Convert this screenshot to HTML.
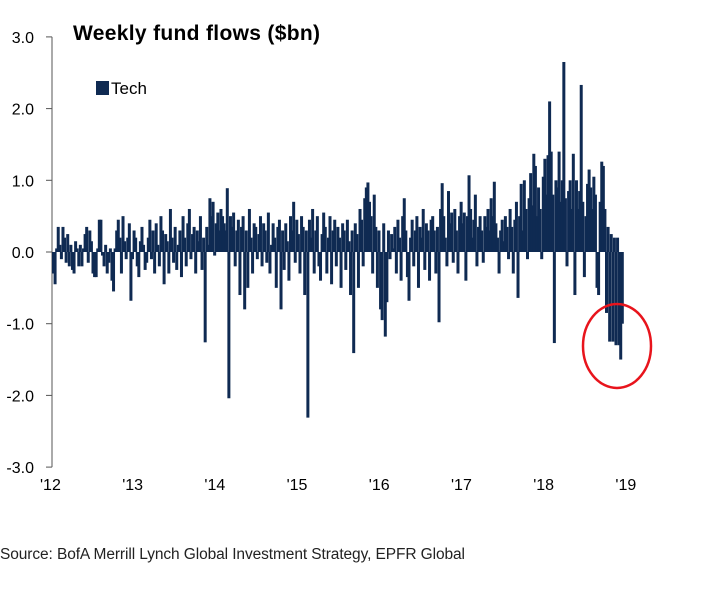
<!DOCTYPE html>
<html><head><meta charset="utf-8"><style>
body{margin:0;background:#fff;width:713px;height:599px;overflow:hidden;font-family:"Liberation Sans",sans-serif}
svg{position:absolute;left:0;top:0}
</style></head><body>
<svg width="713" height="599">
<text x="73" y="40" font-size="21" font-weight="bold" fill="#000" textLength="247">Weekly fund flows ($bn)</text>
<rect x="96" y="81" width="13" height="14" fill="#0f2a52"/>
<text x="111" y="94" font-size="17" fill="#000">Tech</text>
<g id="axes"></g>
<g id="bars"></g>
<ellipse cx="617" cy="346" rx="34" ry="42" fill="none" stroke="#e8141c" stroke-width="2.5"/>
<text x="0" y="559" font-size="15.5" fill="#222" textLength="465">Source: BofA Merrill Lynch Global Investment Strategy, EPFR Global</text>
</svg>
<script>
const yTicks=[3,2,1,0,-1,-2,-3];
const yTickLabels=["3.0","2.0","1.0","0.0","-1.0","-2.0","-3.0"];
const xLabels=["'12","'13","'14","'15","'16","'17","'18","'19"];
const flows=[
-0.3,-0.45,0.05,0.35,0.1,-0.1,0.35,0.2,-0.15,0.25,-0.2,0.1,-0.25,-0.3,0.15,0.05,-0.2,0.1,-0.2,0.05,
0.25,0.35,-0.15,0.3,0.15,-0.3,-0.35,-0.35,0.05,0.45,0.45,-0.05,-0.2,0.1,-0.3,-0.15,0.05,-0.4,-0.55,0.05,
0.3,0.45,0.2,-0.3,0.5,0.15,-0.1,0.2,0.4,-0.68,-0.1,0.3,0.2,-0.2,-0.35,0.15,0.35,0.1,-0.25,-0.15,
0.2,0.45,-0.1,0.3,-0.3,0.4,0.1,-0.2,0.5,0.3,-0.45,0.25,0.15,-0.3,0.6,0.2,-0.15,0.35,-0.25,0.1,
0.3,-0.35,0.5,0.2,-0.2,0.4,0.6,-0.1,0.25,0.35,-0.3,0.3,0.15,0.5,-0.25,0.2,-1.26,0.35,0.1,0.75,
0.5,0.7,-0.05,0.4,0.55,0.3,0.6,0.5,0.4,0.3,0.89,-2.04,0.5,0.35,0.55,-0.2,0.3,0.45,-0.6,0.35,
0.5,-0.8,0.3,-0.5,0.6,0.2,-0.3,0.4,0.35,-0.1,0.25,0.5,-0.2,0.4,0.3,-0.15,0.55,-0.3,0.1,0.4,
0.2,-0.5,0.35,0.45,-0.8,0.3,-0.25,0.4,0.15,-0.4,0.5,0.3,0.7,-0.15,0.45,0.25,-0.3,0.5,0.35,-0.6,
0.3,-2.31,0.45,0.2,0.6,-0.3,0.3,0.5,-0.2,-0.4,0.25,0.55,0.35,-0.3,0.2,0.5,-0.45,0.3,0.45,-0.2,
0.35,0.2,-0.5,0.4,0.3,-0.25,0.45,0.15,-0.6,0.3,-1.41,0.4,0.25,-0.5,0.6,0.45,-0.2,0.75,0.9,0.97,
0.7,0.5,-0.3,0.8,0.35,-0.5,0.3,-0.8,-0.95,0.4,-1.18,-0.7,0.3,-0.1,0.25,0.05,0.35,-0.3,0.45,0.2,
-0.4,0.5,0.75,0.3,-0.35,-0.68,0.2,0.45,-0.2,0.3,0.5,-0.5,0.35,0.2,0.6,-0.25,0.4,0.3,-0.4,0.45,
0.5,0.3,-0.3,0.35,-0.98,0.6,0.96,0.5,0.2,-0.2,0.85,0.4,0.55,-0.15,0.6,0.3,-0.3,0.5,0.7,0.4,
0.55,-0.4,0.5,1.07,0.6,0.2,0.45,0.8,-0.2,0.35,0.5,0.3,-0.15,0.5,0.35,0.6,0.3,0.75,0.5,0.98,
0.4,0.2,-0.3,0.3,0.45,0.15,0.5,0.35,-0.1,0.6,0.35,-0.3,0.45,0.7,-0.64,0.5,0.95,0.3,1.0,0.6,
-0.1,0.75,1.1,0.65,1.37,1.2,0.5,0.9,0.6,-0.1,1.05,1.3,0.8,1.35,2.1,1.4,0.8,-1.27,1.0,0.9,
1.4,0.7,1.0,2.65,0.75,-0.2,0.85,1.0,0.6,1.37,-0.6,1.0,0.6,0.85,2.33,0.7,-0.35,0.5,0.95,1.15,
0.9,0.6,1.05,0.8,-0.5,-0.6,0.7,1.26,1.2,0.6,-0.85,0.35,-1.25,0.25,-1.25,0.2,-1.3,0.2,-1.3,-1.5,-1.0
];
const NS="http://www.w3.org/2000/svg";
const x0=52,weekW=1.58,yZero=252,pxPerUnit=71.7;
function yPos(v){return yZero-v*pxPerUnit;}
function xPos(i){return x0+i*weekW;}
const axes=document.getElementById('axes'),bars=document.getElementById('bars');
function mk(tag,attrs,parent){const e=document.createElementNS(NS,tag);for(const k in attrs)e.setAttribute(k,attrs[k]);parent.appendChild(e);return e;}
const yAxis=mk('line',{x1:x0,y1:yPos(3),x2:x0,y2:yPos(-3),stroke:'#555','stroke-width':1},axes);


yTicks.forEach((v,k)=>{
  const t=mk('line',{x1:x0-6,y1:yPos(v),x2:x0,y2:yPos(v),stroke:'#555'},axes);
  
  
  const l=mk('text',{x:34,y:yPos(v)+6,'text-anchor':'end','font-size':16,fill:'#000'},axes);
  l.textContent=yTickLabels[k];
  
  
});
xLabels.forEach((s,k)=>{
  const x=x0+k*82.2;
  const l=mk('text',{x:x-12,y:490,'font-size':16,fill:'#000'},axes);
  l.textContent=s;
  
  
});
flows.forEach((v,i)=>{
  const y=Math.min(yPos(v),yZero),h=Math.abs(yPos(v)-yZero);
  const r=mk('rect',{x:xPos(i),y:y,width:3,height:Math.max(h,0.5),fill:'#0f2a52'},bars);
  
  
});
</script>
</body></html>
